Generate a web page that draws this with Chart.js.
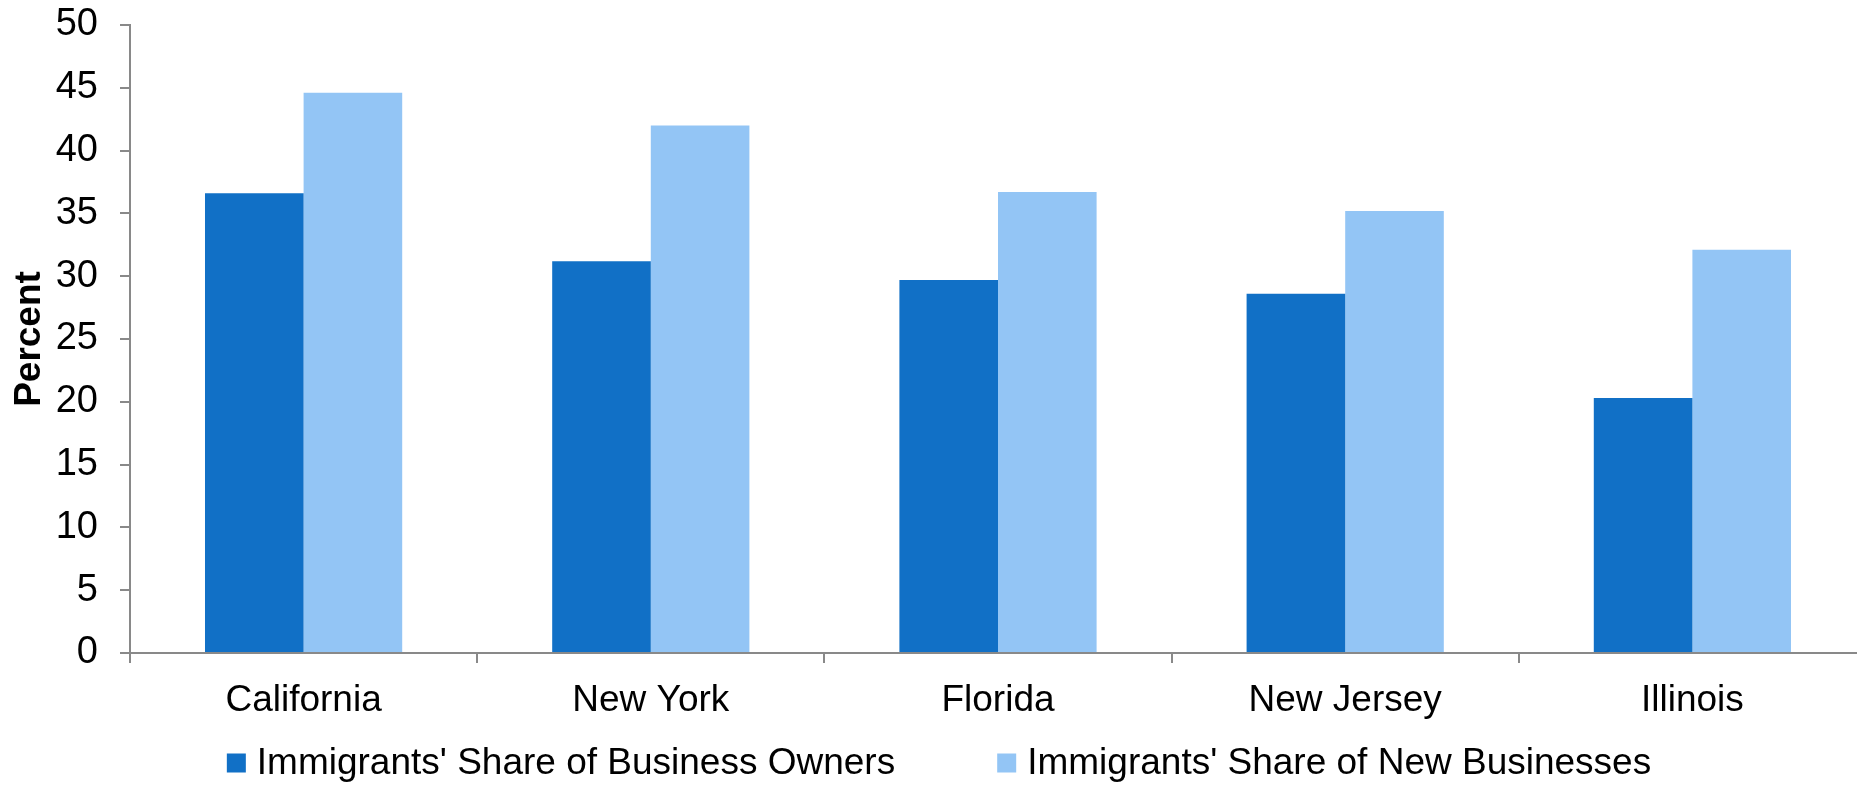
<!DOCTYPE html>
<html>
<head>
<meta charset="utf-8">
<script src="https://cdn.jsdelivr.net/npm/chart.js@4/dist/chart.umd.min.js"></script>
<style>
  html, body { margin: 0; padding: 0; background: #fff; overflow: hidden; }
  /* el eje X sigue un poco más allá del borde derecho */
  #clip { width: 1857px; height: 788px; overflow: hidden; position: relative; }
  #wrap { width: 1866px; height: 788px; position: relative; }
</style>
</head>
<body>
<div id="clip"><div id="wrap"><canvas id="stateChart"></canvas></div></div>
<script>
// Estados y porcentajes
const states = ['California', 'New York', 'Florida', 'New Jersey', 'Illinois'];
const ownersShare = [36.6, 31.2, 29.7, 28.6, 20.3];
const newBizShare = [44.6, 42.0, 36.7, 35.2, 32.1];
const yTicks = [0, 5, 10, 15, 20, 25, 30, 35, 40, 45, 50];

const seriesNames = ["Immigrants' Share of Business Owners", "Immigrants' Share of New Businesses"];

const colors = {
  dark: '#1170c6',
  light: '#93c5f5',
  axis: '#898989',
  text: '#000000'
};
const FONT = '"Liberation Sans", Arial, sans-serif';

// Leyenda dibujada a mano para controlar el espacio entre elementos
const bottomLegend = {
  id: 'bottomLegend',
  afterDraw(chart) {
    const ctx = chart.ctx;
    const box = 19, gapText = 11, gapItems = 102;
    const y = 763;
    ctx.save();
    ctx.font = '37px ' + FONT;
    ctx.textBaseline = 'middle';
    ctx.textAlign = 'left';
    const items = chart.data.datasets.map(ds => ({ label: ds.label, color: ds.backgroundColor, w: ctx.measureText(ds.label).width }));
    const total = items.reduce((s, it) => s + box + gapText + it.w, 0) + gapItems * (items.length - 1);
    let x = 939 - total / 2;
    items.forEach(it => {
      ctx.fillStyle = it.color;
      ctx.fillRect(x, y - box / 2, box, box);
      ctx.fillStyle = colors.text;
      ctx.fillText(it.label, x + box + gapText, y + 1);
      x += box + gapText + it.w + gapItems;
    });
    ctx.restore();
  }
};

new Chart(document.getElementById('stateChart'), {
  type: 'bar',
  data: {
    labels: states,
    datasets: [
      { label: seriesNames[0], data: ownersShare, backgroundColor: colors.dark, borderWidth: 0 },
      { label: seriesNames[1], data: newBizShare, backgroundColor: colors.light, borderWidth: 0 }
    ]
  },
  options: {
    responsive: true,
    maintainAspectRatio: false,
    animation: false,
    layout: { padding: { left: 2, top: 25, right: 0, bottom: 59 } },
    datasets: { bar: { categoryPercentage: 0.568, barPercentage: 1.0 } },
    plugins: {
      legend: { display: false },
      tooltip: { enabled: false }
    },
    scales: {
      x: {
        grid: { display: true, drawOnChartArea: false, drawTicks: true, tickLength: 10, offset: true, color: colors.axis, lineWidth: 2 },
        border: { color: colors.axis, width: 2 },
        ticks: { color: colors.text, font: { family: FONT, size: 37 }, padding: 16, maxRotation: 0 },
        afterFit(scale) {
          scale.height = 76;
          scale.paddingLeft = 0;
          scale.paddingRight = 0;
        }
      },
      y: {
        min: 0,
        max: 50,
        afterBuildTicks(scale) { scale.ticks = yTicks.map(v => ({ value: v })); },
        grid: { display: true, drawOnChartArea: false, drawTicks: true, tickLength: 10, color: colors.axis, lineWidth: 2 },
        border: { color: colors.axis, width: 2 },
        ticks: { color: colors.text, font: { family: FONT, size: 38 }, padding: 22 },
        title: {
          display: true,
          text: 'Percent',
          color: colors.text,
          font: { family: FONT, size: 37, weight: 'bold' },
          padding: { top: 6, bottom: 0 }
        },
        afterFit(scale) {
          scale.width = 128;
          scale.paddingTop = 25;
          scale.paddingBottom = 0;
        }
      }
    }
  },
  plugins: [bottomLegend]
});
</script>
</body>
</html>
